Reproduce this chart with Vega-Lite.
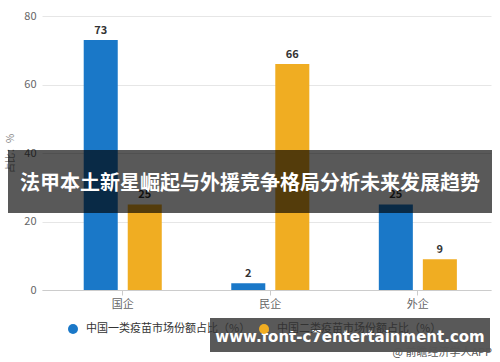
{
  "$schema": "https://vega.github.io/schema/vega-lite/v6.json",
  "width": 449,
  "height": 274,
  "autosize": "none",
  "padding": {"left": 42, "top": 16, "right": 9, "bottom": 72},
  "background": "white",
  "config": {
    "view": {"stroke": null},
    "font": "Noto Sans CJK SC"
  },
  "layer": [
    {
      "data": {
        "values": [
          {"type": "国企", "series": "中国一类疫苗市场份额占比（%）", "share": 73},
          {"type": "国企", "series": "中国二类疫苗市场份额占比（%）", "share": 25},
          {"type": "民企", "series": "中国一类疫苗市场份额占比（%）", "share": 2},
          {"type": "民企", "series": "中国二类疫苗市场份额占比（%）", "share": 66},
          {"type": "外企", "series": "中国一类疫苗市场份额占比（%）", "share": 25},
          {"type": "外企", "series": "中国二类疫苗市场份额占比（%）", "share": 9}
        ]
      },
      "encoding": {
        "x": {
          "field": "type",
          "type": "nominal",
          "sort": ["国企", "民企", "外企"],
          "scale": {"paddingInner": 0.471, "paddingOuter": 0.257, "align": 0.55},
          "axis": {
            "title": null,
            "labelAngle": 0,
            "labelColor": "#666666",
            "labelFontSize": 11,
            "labelPadding": 3,
            "domainColor": "#cccccc",
            "tickColor": "#cccccc",
            "tickSize": 5,
            "grid": false
          }
        },
        "xOffset": {
          "field": "series",
          "type": "nominal",
          "sort": ["中国一类疫苗市场份额占比（%）", "中国二类疫苗市场份额占比（%）"],
          "scale": {"paddingInner": 0.227, "paddingOuter": 0}
        },
        "y": {
          "field": "share",
          "type": "quantitative",
          "scale": {"domain": [0, 80], "nice": false},
          "axis": {
            "values": [0, 20, 40, 60, 80],
            "title": "占比：%",
            "titleFontSize": 10,
            "titleFontWeight": "normal",
            "titleColor": "#888888",
            "titlePadding": 8,
            "labelColor": "#666666",
            "labelFontSize": 11,
            "labelPadding": 6,
            "ticks": false,
            "domain": false,
            "gridColor": "#e6e6e6"
          }
        }
      },
      "layer": [
        {
          "mark": {"type": "bar"},
          "encoding": {
            "color": {
              "field": "series",
              "type": "nominal",
              "scale": {
                "domain": ["中国一类疫苗市场份额占比（%）", "中国二类疫苗市场份额占比（%）"],
                "range": ["#1a78c8", "#f0ad22"]
              },
              "legend": {
                "title": null,
                "orient": "none",
                "direction": "horizontal",
                "legendX": 25,
                "legendY": 307,
                "symbolType": "circle",
                "symbolSize": 100,
                "labelFontSize": 11,
                "labelColor": "#333333",
                "labelOffset": 7,
                "labelLimit": 300,
                "columnPadding": 7
              }
            }
          }
        },
        {
          "mark": {"type": "text", "baseline": "alphabetic", "dy": -6, "fontSize": 11, "fontWeight": "bold", "color": "#333333"},
          "encoding": {"text": {"field": "share", "type": "quantitative"}}
        }
      ]
    },
    {
      "data": {"values": [{"label": "法甲本土新星崛起与外援竞争格局分析未来发展趋势"}]},
      "layer": [
        {
          "mark": {"type": "rect", "color": "#000000", "opacity": 0.65},
          "encoding": {
            "x": {"value": -34},
            "x2": {"value": 450},
            "y": {"value": 134},
            "y2": {"value": 197}
          }
        },
        {
          "mark": {"type": "text", "color": "white", "fontSize": 20, "fontWeight": "bold", "align": "center", "baseline": "middle"},
          "encoding": {
            "x": {"value": 208},
            "y": {"value": 168},
            "text": {"field": "label"}
          }
        }
      ]
    },
    {
      "data": {"values": [{"label": "www.font-c7entertainment.com", "credit": "@ 前瞻经济学人APP"}]},
      "layer": [
        {
          "mark": {"type": "rect", "color": "#000000", "opacity": 0.65},
          "encoding": {
            "x": {"value": 168},
            "x2": {"value": 448},
            "y": {"value": 302},
            "y2": {"value": 336}
          }
        },
        {
          "mark": {"type": "text", "color": "white", "fontSize": 15, "fontWeight": "bold", "font": "DejaVu Sans", "align": "center", "baseline": "middle"},
          "encoding": {
            "x": {"value": 308},
            "y": {"value": 321},
            "text": {"field": "label"}
          }
        },
        {
          "mark": {"type": "text", "color": "#555555", "fontSize": 11, "align": "right", "baseline": "middle"},
          "encoding": {
            "x": {"value": 450},
            "y": {"value": 337},
            "text": {"field": "credit"}
          }
        }
      ]
    }
  ]
}
